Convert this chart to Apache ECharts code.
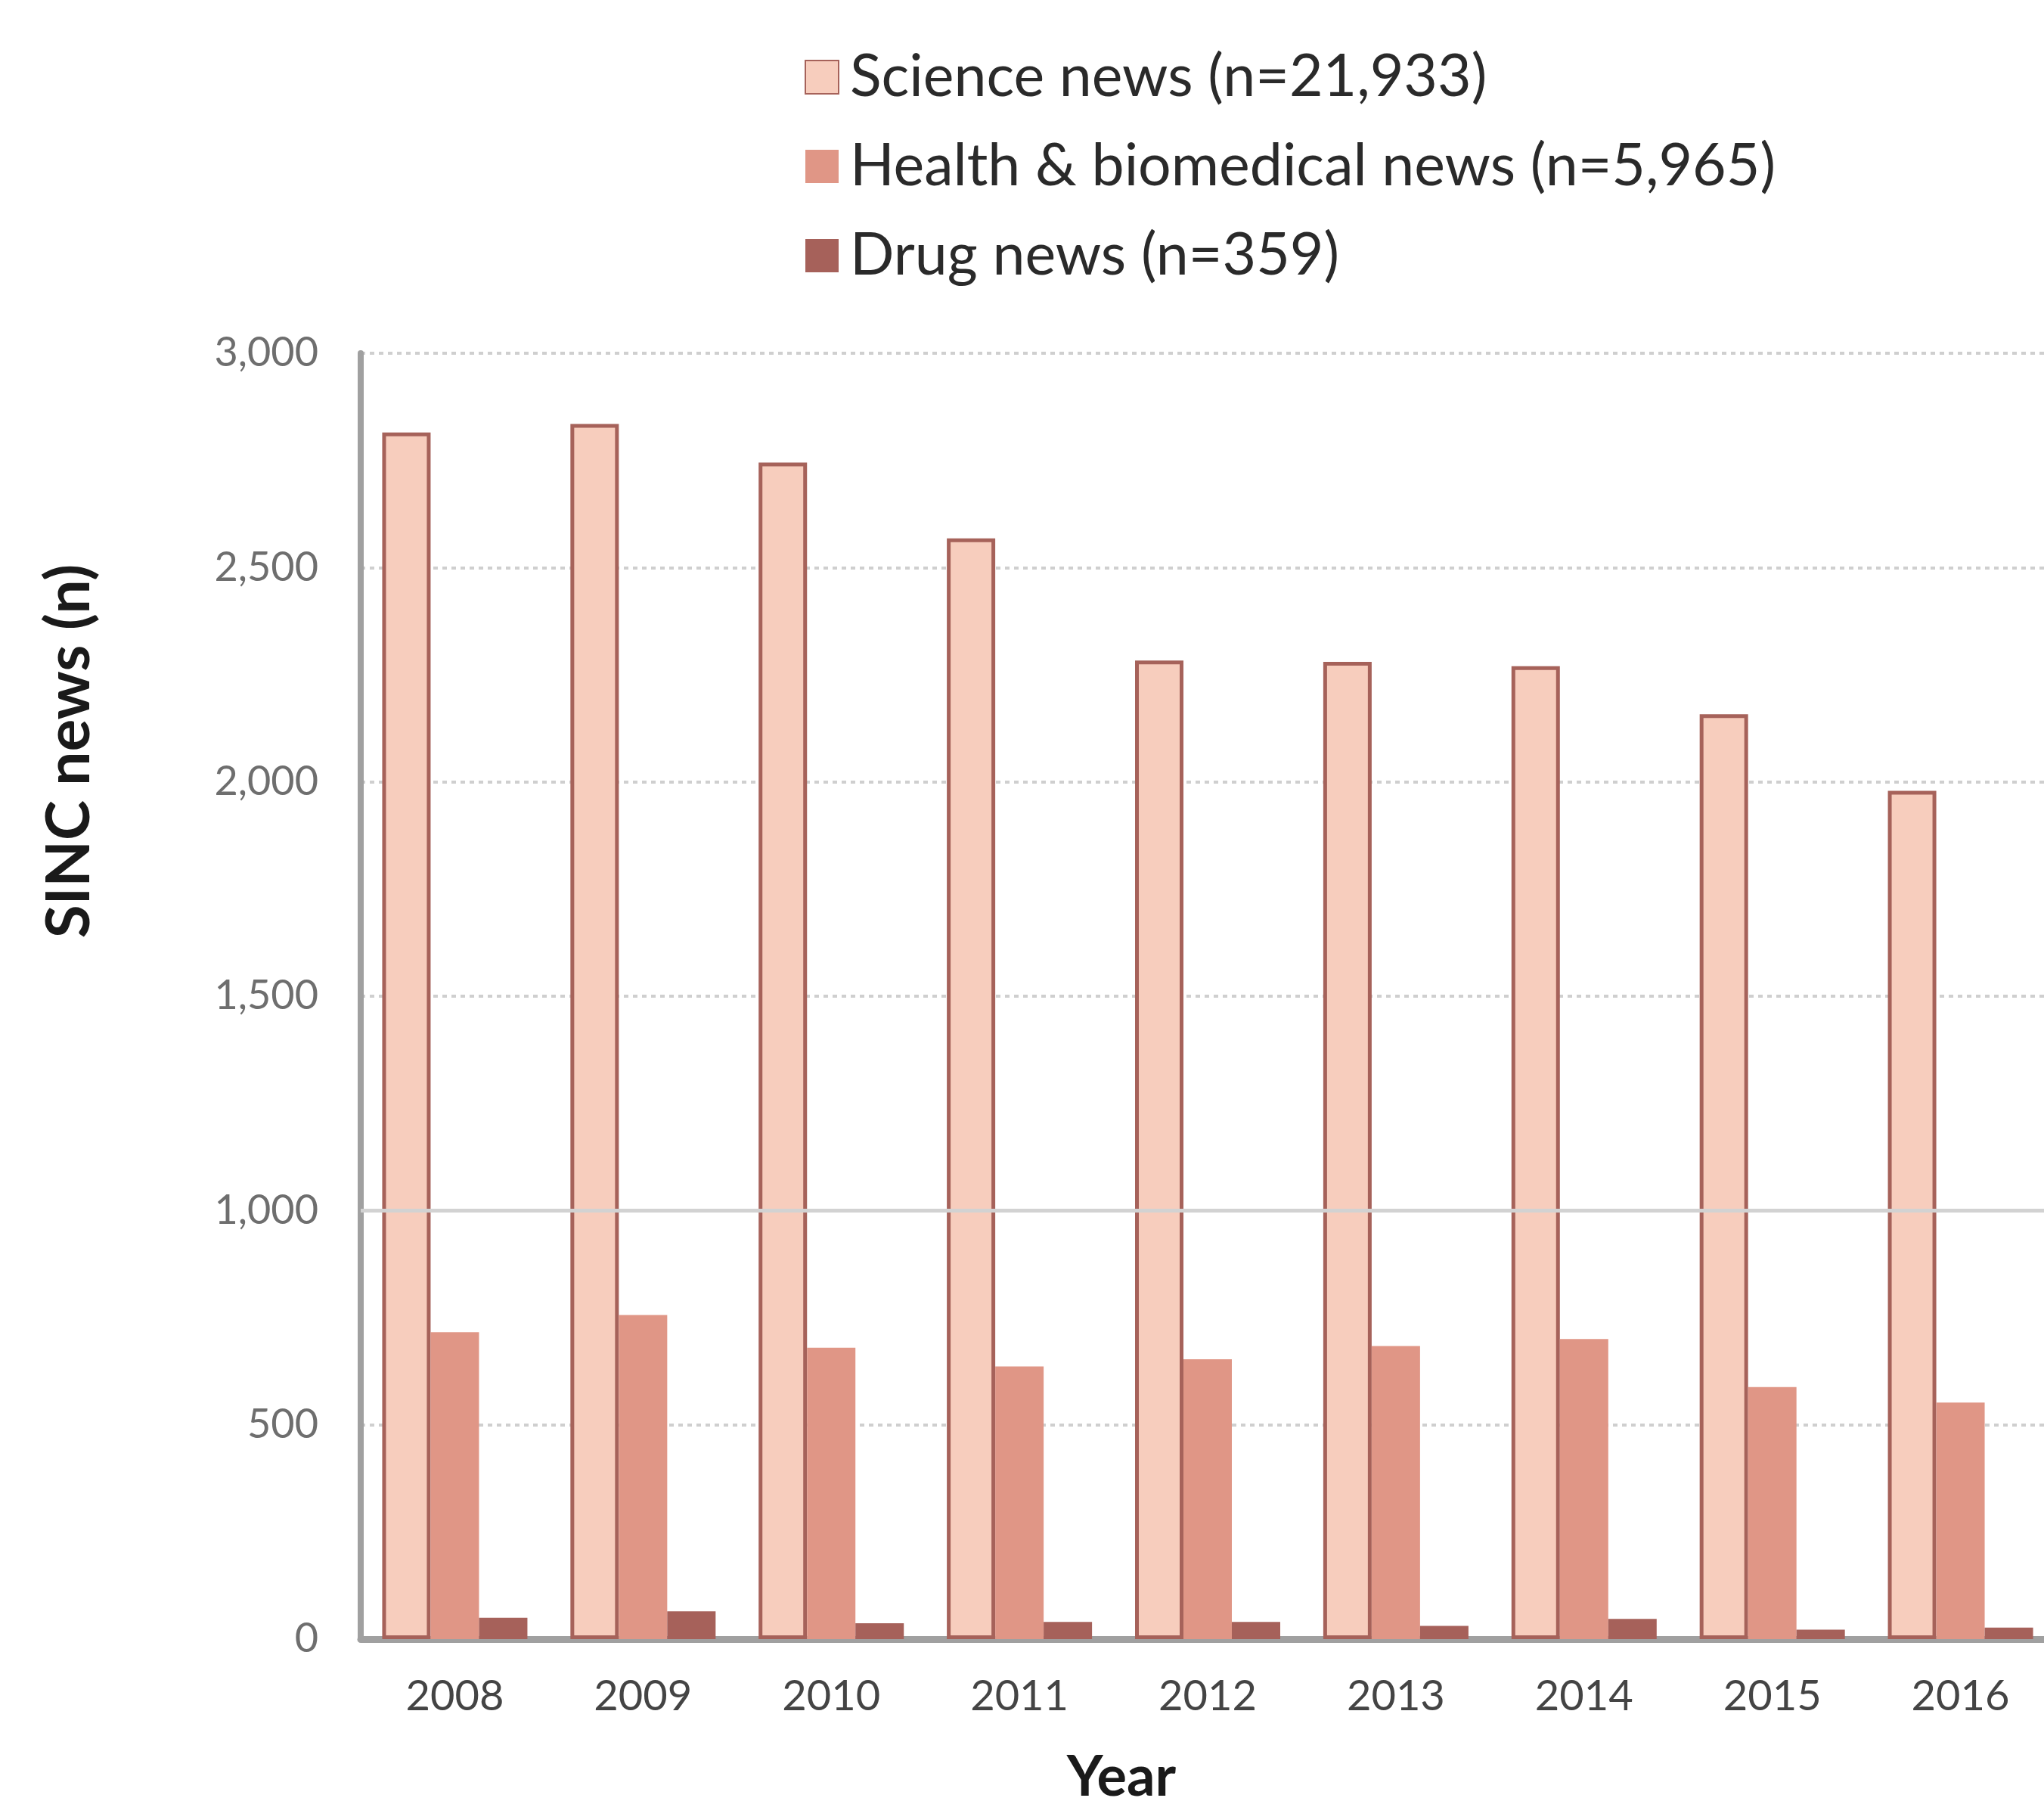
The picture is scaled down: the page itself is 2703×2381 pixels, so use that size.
<!DOCTYPE html>
<html>
<head>
<meta charset="utf-8">
<title>SINC news by year</title>
<script src="https://cdn.jsdelivr.net/npm/echarts@6/dist/echarts.min.js"></script>
<style>
  html, body { margin: 0; padding: 0; background: #ffffff; }
  #chart { width: 2703px; height: 2381px; }
</style>
</head>
<body>
<div id="chart"></div>
<script>
// News items published per year, by type
const years = ['2008', '2009', '2010', '2011', '2012', '2013', '2014', '2015', '2016'];
const scienceNews = [2815, 2835, 2745, 2568, 2283, 2280, 2270, 2158, 1979];
const healthNews  = [716, 756, 680, 636, 653, 684, 700, 588, 552];
const drugNews    = [50, 65, 37, 40, 40, 31, 47, 22, 27];
const seriesNames = [
  'Science news (n=21,933)',
  'Health & biomedical news (n=5,965)',
  'Drug news (n=359)'
];
const yTicks = [0, 500, 1000, 1500, 2000, 2500, 3000];
const yTitle = 'SINC news (n)';
const xTitle = 'Year';

const fmt = v => v.toLocaleString('en-US');

const chart = echarts.init(document.getElementById('chart'), null, { renderer: 'canvas' });

chart.setOption({
  backgroundColor: '#ffffff',
  animation: false,
  legend: {
    data: seriesNames,
    orient: 'vertical',
    left: 1059,
    top: 56,
    itemWidth: 44,
    itemHeight: 44,
    itemGap: 36,
    icon: 'rect',
    selectedMode: false,
    textStyle: {
      fontFamily: 'Lato',
      fontSize: 77,
      color: '#2a2a2a',
      lineHeight: 82,
      padding: [0, 0, 0, 10]
    }
  },
  // axis titles, placed by hand
  graphic: [
    {
      type: 'text',
      x: 92,
      y: 993,
      rotation: Math.PI / 2,
      silent: true,
      style: {
        text: yTitle,
        fontFamily: 'Lato',
        fontWeight: 'bold',
        fontSize: 80,
        fill: '#1a1a1a',
        align: 'center',
        verticalAlign: 'middle'
      }
    },
    {
      type: 'text',
      x: 1483,
      y: 2350,
      silent: true,
      style: {
        text: xTitle,
        fontFamily: 'Lato',
        fontWeight: 'bold',
        fontSize: 74,
        fill: '#1a1a1a',
        align: 'center',
        verticalAlign: 'middle'
      }
    }
  ],
  grid: {
    left: 477,
    right: -14,
    top: 467,
    bottom: 214,
    containLabel: false,
    outerBoundsMode: 'none'
  },
  xAxis: {
    type: 'category',
    data: years,
    axisLine: { show: true, lineStyle: { color: '#a0a0a0', width: 9 } },
    axisTick: { show: false },
    axisLabel: {
      fontFamily: 'Lato',
      fontSize: 56,
      color: '#444444',
      margin: 48
    }
  },
  yAxis: {
    type: 'value',
    min: yTicks[0],
    max: yTicks[yTicks.length - 1],
    interval: 500,
    axisLine: { show: true, lineStyle: { color: '#a0a0a0', width: 8 } },
    axisTick: { show: false },
    axisLabel: {
      fontFamily: 'Lato',
      fontSize: 54,
      color: '#6e6e6e',
      margin: 56,
      formatter: fmt
    },
    splitLine: {
      show: true,
      lineStyle: { color: '#cfcfcf', width: 4, type: [6, 6] }
    }
  },
  series: [
    {
      // solid reference line at 1,000
      type: 'line',
      data: [],
      silent: true,
      z: 1,
      markLine: {
        silent: true,
        symbol: 'none',
        label: { show: false },
        lineStyle: { color: '#d2d2d2', width: 5, type: 'solid' },
        data: [{ yAxis: 1000 }]
      }
    },
    {
      name: seriesNames[0],
      type: 'bar',
      data: scienceNews,
      barWidth: 64,
      barGap: '0%',
      z: 3,
      itemStyle: {
        color: '#f7cdbd',
        borderColor: '#a6625a',
        borderWidth: 5
      }
    },
    {
      name: seriesNames[1],
      type: 'bar',
      data: healthNews,
      barWidth: 64,
      barGap: '0%',
      z: 3,
      itemStyle: { color: '#e09686' }
    },
    {
      name: seriesNames[2],
      type: 'bar',
      data: drugNews,
      barWidth: 64,
      barGap: '0%',
      z: 3,
      itemStyle: { color: '#a6615a' }
    }
  ]
});
</script>
</body>
</html>
